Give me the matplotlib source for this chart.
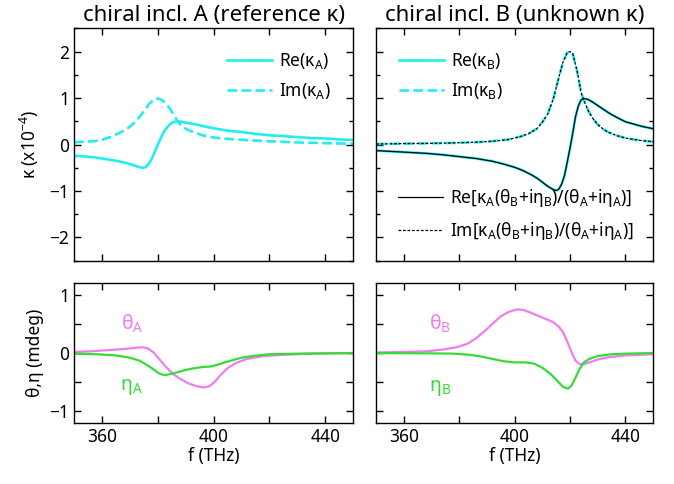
import matplotlib
matplotlib.use("Agg")
import matplotlib.pyplot as plt
from matplotlib.ticker import FixedLocator, MultipleLocator

plt.rcParams["font.family"] = ["Noto Sans", "DejaVu Sans"]
plt.rcParams["mathtext.fontset"] = "custom"
plt.rcParams["mathtext.rm"] = "Noto Sans"
plt.rcParams["mathtext.it"] = "Noto Sans:italic"
plt.rcParams["mathtext.bf"] = "Noto Sans:bold"

# chiral inclusion A: kappa (x1e-4)
f_kA_re = [350, 354, 358, 362, 366, 369, 371, 373, 374.5, 375.5, 376.5, 377.5,
           378.5, 379.5, 380.5, 381.5, 382.5, 383.5, 384.5, 385.5, 387, 388.5,
           390, 393, 396, 400, 405, 410, 415, 420, 425, 430, 435, 440, 445, 450]
re_kA = [-0.24, -0.26, -0.28, -0.32, -0.36, -0.40, -0.44, -0.48, -0.50, -0.49,
         -0.44, -0.35, -0.22, -0.08, 0.06, 0.19, 0.30, 0.38, 0.44, 0.48, 0.50,
         0.49, 0.47, 0.44, 0.40, 0.35, 0.30, 0.27, 0.23, 0.20, 0.18, 0.16,
         0.14, 0.13, 0.11, 0.10]
f_kA_im = [350, 354, 357, 360, 363, 366, 369, 371, 373, 375, 377, 378.5, 380,
           381.5, 383, 384.5, 386, 387.5, 389, 391, 393, 396, 399, 403, 408,
           413, 420, 430, 440, 450]
im_kA = [0.05, 0.06, 0.07, 0.10, 0.16, 0.24, 0.34, 0.43, 0.56, 0.71, 0.88,
         0.96, 0.99, 0.96, 0.88, 0.76, 0.61, 0.47, 0.38, 0.31, 0.26, 0.20,
         0.16, 0.13, 0.11, 0.09, 0.07, 0.045, 0.03, 0.015]

# chiral inclusion B: kappa (x1e-4)
f_kB_re = [350, 356, 362, 368, 374, 380, 386, 392, 396, 400, 403, 406, 408,
           410, 412, 414, 415, 416, 417, 418, 419, 420, 421, 422, 423, 424,
           425, 426.5, 428, 430, 432, 434, 437, 440, 443, 446, 450]
re_kB = [-0.13, -0.15, -0.17, -0.19, -0.22, -0.26, -0.30, -0.36, -0.42, -0.49,
         -0.56, -0.65, -0.72, -0.81, -0.90, -0.97, -0.99, -0.96, -0.85, -0.67,
         -0.38, -0.08, 0.25, 0.60, 0.83, 0.96, 0.99, 0.97, 0.92, 0.84, 0.76,
         0.68, 0.58, 0.49, 0.44, 0.39, 0.34]
f_kB_im = [350, 360, 370, 378, 386, 392, 398, 402, 405, 408, 410, 412, 414,
           416, 417.5, 419, 420, 421, 422.5, 424, 425, 426.5, 428, 430, 432,
           434, 437, 440, 445, 450]
im_kB = [0.01, 0.02, 0.025, 0.035, 0.05, 0.07, 0.11, 0.17, 0.23, 0.34, 0.48,
         0.66, 0.99, 1.45, 1.78, 1.98, 2.00, 1.95, 1.60, 1.12, 0.95, 0.74,
         0.58, 0.43, 0.33, 0.26, 0.19, 0.14, 0.09, 0.06]

# rotation theta and ellipticity eta (mdeg)
f_thA = [350, 356, 362, 368, 372, 374.5, 376.5, 378.5, 380.5, 383, 385.5, 388,
         391, 394, 396.5, 398.5, 400.5, 402.5, 405, 408, 412, 418, 425, 435, 450]
th_A = [0.02, 0.03, 0.05, 0.07, 0.09, 0.10, 0.08, 0.01, -0.10, -0.24, -0.36,
        -0.44, -0.52, -0.57, -0.59, -0.57, -0.49, -0.38, -0.26, -0.17, -0.10,
        -0.05, -0.03, -0.01, 0.0]
f_etA = [350, 358, 365, 370, 373.5, 376, 378.5, 380.5, 382.5, 384.5, 387, 390,
         393, 396, 399, 401.5, 404, 407, 410, 414, 420, 430, 450]
eta_A = [-0.01, -0.02, -0.04, -0.08, -0.13, -0.20, -0.28, -0.35, -0.38, -0.36,
         -0.33, -0.29, -0.26, -0.24, -0.23, -0.20, -0.16, -0.12, -0.08, -0.05,
         -0.02, -0.01, 0.0]
f_thB = [350, 360, 368, 374, 379, 383, 386, 389, 392, 395, 398, 401, 403,
         405.5, 408, 411, 414, 416, 417.5, 419, 420.5, 422, 423.5, 425, 427,
         430, 434, 440, 445, 450]
th_B = [0.01, 0.02, 0.03, 0.06, 0.10, 0.16, 0.25, 0.37, 0.50, 0.63, 0.71,
        0.75, 0.74, 0.70, 0.65, 0.59, 0.53, 0.45, 0.36, 0.20, 0.02, -0.13,
        -0.19, -0.19, -0.16, -0.11, -0.07, -0.04, -0.03, -0.02]
f_etB = [350, 370, 378, 384, 388, 392, 396, 400, 404, 407, 410, 413, 415.5,
         417.5, 419.3, 420.5, 422, 423.5, 425, 427, 430, 435, 440, 450]
eta_B = [0.0, -0.005, -0.01, -0.03, -0.06, -0.10, -0.14, -0.16, -0.16, -0.18,
         -0.25, -0.36, -0.48, -0.58, -0.61, -0.56, -0.42, -0.27, -0.16, -0.10,
         -0.05, -0.02, -0.01, 0.0]

cyan = "#22eeee"
pink = "#f07cf0"
green = "#33dd33"
fs = 12.5

fig = plt.figure(figsize=(6.74, 4.84), dpi=100)
ax_ka = fig.add_axes([0.1098, 0.4614, 0.414, 0.480])
ax_kb = fig.add_axes([0.558, 0.4614, 0.411, 0.480])
ax_ta = fig.add_axes([0.1098, 0.126, 0.414, 0.289])
ax_tb = fig.add_axes([0.558, 0.126, 0.411, 0.289])


def style(ax, top):
    ax.set_xlim(350, 450)
    ax.xaxis.set_major_locator(FixedLocator([360, 400, 440]))
    ax.xaxis.set_minor_locator(FixedLocator([380, 420]))
    for s in ax.spines.values():
        s.set_linewidth(1.0)
    ax.tick_params(which="both", direction="in", top=True, right=True,
                   labelsize=fs, width=1.0)
    ax.tick_params(axis="x", which="both", length=5)
    if top:
        ax.set_ylim(-2.5, 2.5)
        ax.yaxis.set_major_locator(MultipleLocator(1))
        ax.yaxis.set_minor_locator(MultipleLocator(0.5))
        ax.tick_params(axis="y", which="major", length=5)
        ax.tick_params(axis="y", which="minor", length=3)
        ax.tick_params(axis="x", labelbottom=False)
    else:
        ax.set_ylim(-1.2, 1.2)
        ax.yaxis.set_major_locator(MultipleLocator(1))
        ax.yaxis.set_minor_locator(MultipleLocator(0.5))
        ax.tick_params(axis="y", which="both", length=5)
        ax.set_xlabel("f (THz)", fontsize=fs, labelpad=1)


for a in (ax_ka, ax_ta):
    style(a, a is ax_ka)
for a in (ax_kb, ax_tb):
    style(a, a is ax_kb)
    a.tick_params(axis="y", labelleft=False)

leg_kw = dict(frameon=False, fontsize=fs, handlelength=2.6, labelspacing=0.6,
              handletextpad=0.4)

# top left
ax_ka.plot(f_kA_re, re_kA, color=cyan, lw=1.9, label=r"Re(κ$_\mathregular{A}$)")
ax_ka.plot(f_kA_im, im_kA, color=cyan, lw=1.9, ls="--",
           label=r"Im(κ$_\mathregular{A}$)")
ax_ka.legend(loc="upper right", borderaxespad=0.9, **leg_kw)
ax_ka.set_ylabel(r"κ (x10$^{-4}$)", fontsize=fs, labelpad=6)
ax_ka.set_title("chiral incl. A (reference κ)", fontsize=16, pad=5)

# top right
l1, = ax_kb.plot(f_kB_re, re_kB, color=cyan, lw=1.9, label=r"Re(κ$_\mathregular{B}$)")
l2, = ax_kb.plot(f_kB_im, im_kB, color=cyan, lw=1.9, ls="--",
                 label=r"Im(κ$_\mathregular{B}$)")
l3, = ax_kb.plot(f_kB_re, re_kB, color="black", lw=0.9,
                 label=r"Re[κ$_\mathregular{A}$(θ$_\mathregular{B}$+iη$_\mathregular{B}$)/(θ$_\mathregular{A}$+iη$_\mathregular{A}$)]")
l4, = ax_kb.plot(f_kB_im, im_kB, color="black", lw=0.9, dashes=(2.2, 1.4),
                 label=r"Im[κ$_\mathregular{A}$(θ$_\mathregular{B}$+iη$_\mathregular{B}$)/(θ$_\mathregular{A}$+iη$_\mathregular{A}$)]")
leg1 = ax_kb.legend(handles=[l1, l2], loc="upper left", borderaxespad=0.9,
                    **leg_kw)
ax_kb.add_artist(leg1)
ax_kb.legend(handles=[l3, l4], loc="lower right", borderaxespad=0.7, **leg_kw)
ax_kb.set_title("chiral incl. B (unknown κ)", fontsize=16, pad=5)

# bottom left
ax_ta.plot(f_thA, th_A, color=pink, lw=1.6)
ax_ta.plot(f_etA, eta_A, color=green, lw=1.6)
ax_ta.text(371, 0.5, r"θ$_\mathregular{A}$", color=pink, fontsize=14,
           ha="center", va="center")
ax_ta.text(370.5, -0.58, r"η$_\mathregular{A}$", color=green, fontsize=14,
           ha="center", va="center")
ax_ta.set_ylabel("θ,η (mdeg)", fontsize=fs, labelpad=4)

# bottom right
ax_tb.plot(f_thB, th_B, color=pink, lw=1.6)
ax_tb.plot(f_etB, eta_B, color=green, lw=1.6)
ax_tb.text(373, 0.5, r"θ$_\mathregular{B}$", color=pink, fontsize=14,
           ha="center", va="center")
ax_tb.text(373, -0.6, r"η$_\mathregular{B}$", color=green, fontsize=14,
           ha="center", va="center")

fig.savefig("out.png", dpi=100)
